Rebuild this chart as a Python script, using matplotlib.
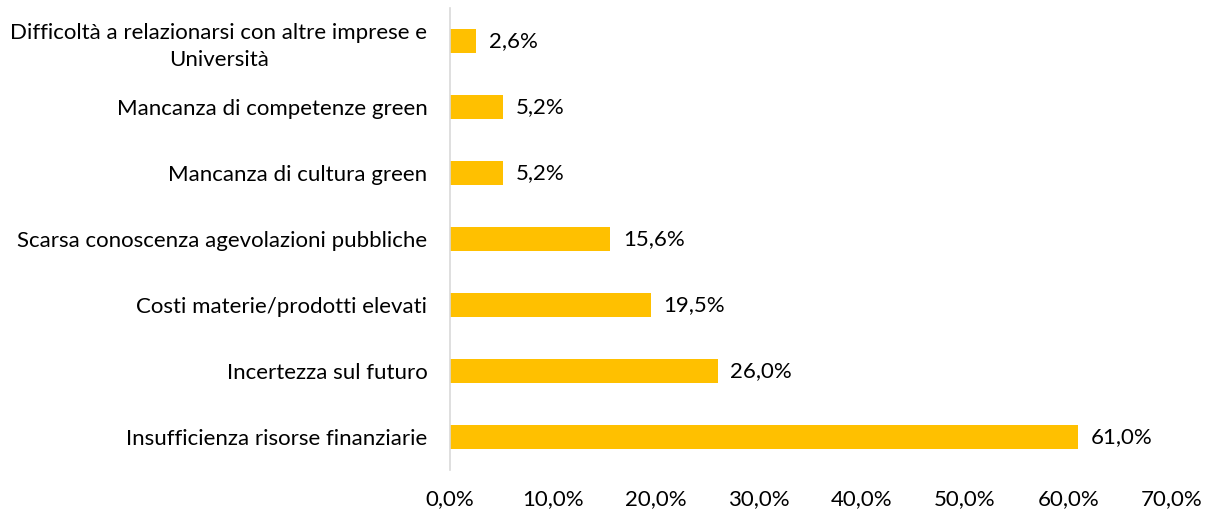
import matplotlib
matplotlib.use("Agg")
import matplotlib.pyplot as plt
from matplotlib.ticker import FuncFormatter

categories = [
    "Insufficienza risorse finanziarie",
    "Incertezza sul futuro",
    "Costi materie/prodotti elevati",
    "Scarsa conoscenza agevolazioni pubbliche",
    "Mancanza di cultura green",
    "Mancanza di competenze green",
    "Difficoltà a relazionarsi con altre imprese e\nUniversità",
]
values = [61.0, 26.0, 19.5, 15.6, 5.2, 5.2, 2.6]
xticks = [0, 10, 20, 30, 40, 50, 60, 70]

plt.rcParams['font.family'] = ['Lato', 'DejaVu Sans']
FS = 16

fig = plt.figure(figsize=(12.15, 5.16), dpi=100)
ax = fig.add_axes([0.370, 0.089, 0.594, 0.895])

y = list(range(len(categories)))
bars = ax.barh(y, values, height=0.36, color='#FFC000')
ax.set_ylim(-0.5, len(categories) - 0.5)
ax.set_xlim(0, 70)
ax.set_xticks(xticks)
ax.xaxis.set_major_formatter(FuncFormatter(lambda v, p: f"{v:.1f}%".replace('.', ',')))
ax.set_yticks(y)
ax.set_yticklabels(categories, fontsize=FS, multialignment='center', linespacing=1.4)
for lab in ax.get_xticklabels():
    lab.set_fontsize(FS)
ax.tick_params(axis='both', length=0, colors='#000000')
ax.tick_params(axis='y', pad=16)
ax.tick_params(axis='x', pad=14)
for s in ['top', 'right', 'bottom']:
    ax.spines[s].set_visible(False)
ax.spines['left'].set_color('#D9D9D9')
ax.spines['left'].set_linewidth(1.2)

for v, yy in zip(values, y):
    ax.annotate(f"{v:.1f}%".replace('.', ','), xy=(v, yy), xytext=(9, 0),
                textcoords='offset points', va='center', ha='left', fontsize=FS)

fig.savefig("out.png", dpi=100)
